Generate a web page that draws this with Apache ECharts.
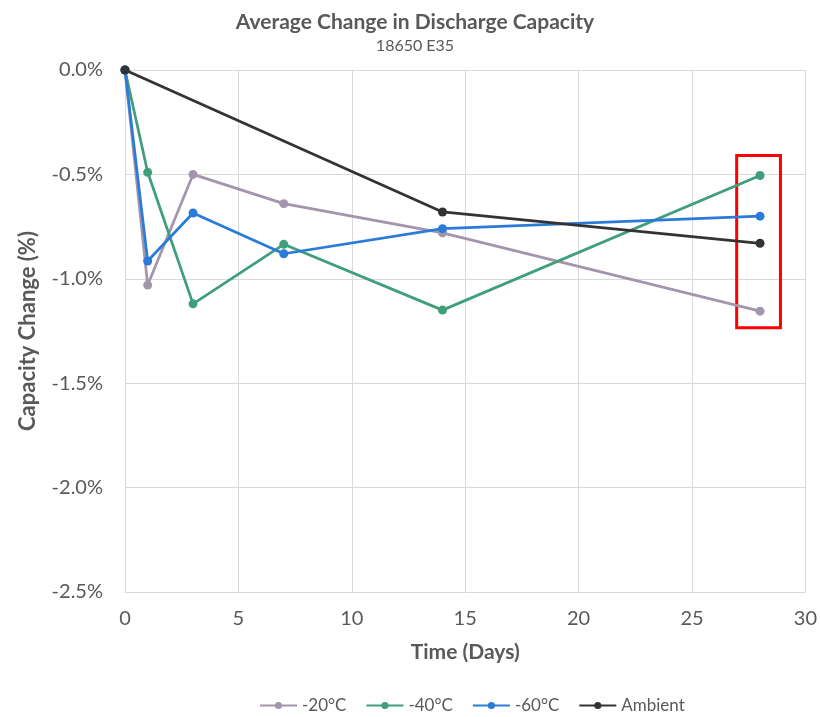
<!DOCTYPE html>
<html>
<head>
<meta charset="utf-8">
<script src="https://cdn.jsdelivr.net/npm/echarts@6/dist/echarts.min.js"></script>
<style>
  html, body { margin: 0; padding: 0; background: #fff; }
  #chart { width: 820px; height: 717px; }
</style>
</head>
<body>
<div id="chart"></div>
<script>
// Storage time in days and average change in discharge capacity (%)
const days = [0, 1, 3, 7, 14, 28];
const ambientDays = [0, 14, 28];

const minus20 = [0, -1.03, -0.50, -0.64, -0.78, -1.155];
const minus40 = [0, -0.49, -1.12, -0.835, -1.15, -0.505];
const minus60 = [0, -0.915, -0.685, -0.88, -0.76, -0.70];
const ambient = [0, -0.68, -0.83];

const seriesNames = ['-20°C', '-40°C', '-60°C', 'Ambient'];
const seriesColors = ['#a395ac', '#3f9f7b', '#2b7bd8', '#333333'];

// Highlight box around the 28-day readings
const boxX = [26.97, 28.9];
const boxY = [-0.41, -1.235];

const yTicks = { min: -2.5, max: 0, interval: 0.5 };
const xTicks = { min: 0, max: 30, interval: 5 };

const font = 'Lato, "Open Sans", sans-serif';
const textGrey = '#595959';

function pairs(xs, ys) {
  return xs.map((x, i) => [x, ys[i]]);
}

const seriesData = [
  pairs(days, minus20),
  pairs(days, minus40),
  pairs(days, minus60),
  pairs(ambientDays, ambient)
];

const series = seriesData.map((data, i) => ({
  name: seriesNames[i],
  type: 'line',
  data: data,
  symbol: 'circle',
  symbolSize: 9,
  color: seriesColors[i],
  lineStyle: { width: 2.75, color: seriesColors[i] },
  itemStyle: { color: seriesColors[i] },
  emphasis: { disabled: true },
  z: 2 + i
}));

series[3].markArea = {
  silent: true,
  itemStyle: { color: 'rgba(0,0,0,0)', borderColor: '#ff0000', borderWidth: 3 },
  data: [[{ coord: [boxX[0], boxY[0]] }, { coord: [boxX[1], boxY[1]] }]]
};

const chart = echarts.init(document.getElementById('chart'));
chart.setOption({
  animation: false,
  backgroundColor: '#ffffff',
  title: {
    text: 'Average Change in Discharge Capacity',
    subtext: '18650 E35',
    left: 410,
    textAlign: 'center',
    top: 7,
    itemGap: 5,
    textStyle: { fontFamily: font, fontSize: 21, fontWeight: 'bold', color: textGrey },
    subtextStyle: { fontFamily: font, fontSize: 16, color: textGrey }
  },
  legend: {
    data: seriesNames,
    top: 692,
    left: 254,
    width: 560,
    orient: 'horizontal',
    itemWidth: 37,
    itemHeight: 9,
    itemGap: 19,
    textStyle: { fontFamily: font, fontSize: 17, color: textGrey },
    selectedMode: false
  },
  grid: { left: 125, right: 14, top: 70, bottom: 125, containLabel: false },
  xAxis: {
    type: 'value',
    min: xTicks.min,
    max: xTicks.max,
    interval: xTicks.interval,
    name: 'Time (Days)',
    nameLocation: 'middle',
    nameGap: 50,
    nameTextStyle: { fontFamily: font, fontSize: 21, fontWeight: 'bold', color: textGrey },
    axisLine: { show: true, lineStyle: { color: '#d9d9d9', width: 1 } },
    axisTick: { show: false },
    axisLabel: { fontFamily: font, fontSize: 20, color: textGrey, margin: 17 },
    splitLine: { show: true, lineStyle: { color: '#d9d9d9', width: 1 } }
  },
  yAxis: {
    type: 'value',
    min: yTicks.min,
    max: yTicks.max,
    interval: yTicks.interval,
    name: 'Capacity Change (%)',
    nameLocation: 'middle',
    nameGap: 86,
    nameTextStyle: { fontFamily: font, fontSize: 22, fontWeight: 'bold', color: textGrey },
    axisLine: { show: false },
    axisTick: { show: false },
    axisLabel: {
      fontFamily: font, fontSize: 20, color: textGrey, margin: 22,
      formatter: v => v.toFixed(1) + '%'
    },
    splitLine: { show: true, lineStyle: { color: '#d9d9d9', width: 1 } }
  },
  series: series
});
</script>
</body>
</html>
